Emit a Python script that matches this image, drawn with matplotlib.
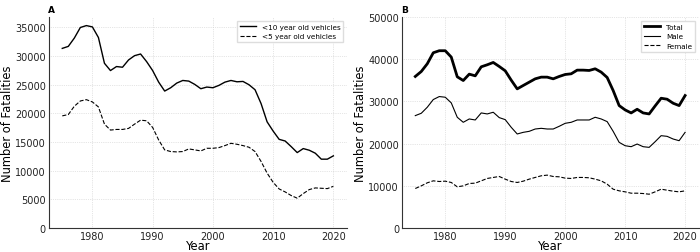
import matplotlib.pyplot as plt
import numpy as np

years = np.arange(1975, 2021)

# Panel A: fatalities by vehicle age
under10 = [31350, 31700, 33150, 35000, 35330, 35100, 33250, 28750, 27480, 28180,
           28060, 29330, 30080, 30370, 29040, 27480, 25460, 23900, 24480, 25290,
           25750, 25640, 25060, 24310, 24600, 24480, 24890, 25460, 25750, 25520,
           25580, 25000, 24130, 21710, 18530, 16920, 15470, 15180, 14200, 13160,
           13860, 13570, 13050, 12010, 12010, 12590]
under5 = [19570, 19800, 21250, 22170, 22400, 22000, 21130, 18130, 17090, 17200,
          17200, 17380, 18130, 18820, 18710, 17550, 15360, 13630, 13340, 13280,
          13340, 13800, 13630, 13450, 13910, 13910, 14030, 14380, 14780, 14610,
          14380, 14090, 13340, 11610, 9580, 7970, 6810, 6290, 5660, 5200,
          6000, 6700, 6990, 6930, 6870, 7270]

# Panel B: fatalities by sex
total = [35900, 37080, 38910, 41520, 42000, 42000, 40490, 35820, 34940, 36450,
         36050, 38190, 38670, 39220, 38270, 37240, 35020, 32960, 33760, 34550,
         35340, 35740, 35740, 35340, 35900, 36370, 36530, 37400, 37400, 37320,
         37720, 36930, 35660, 32570, 29000, 27970, 27260, 28130, 27260, 27020,
         28920, 30740, 30510, 29560, 29000, 31380]
male = [26620, 27180, 28610, 30430, 31140, 30980, 29640, 26230, 25040, 25830,
        25590, 27260, 27020, 27420, 26150, 25670, 23850, 22270, 22660, 22900,
        23450, 23610, 23450, 23450, 24090, 24800, 25040, 25590, 25590, 25590,
        26230, 25830, 25200, 22900, 20290, 19490, 19260, 19890, 19260, 19100,
        20440, 21870, 21710, 21080, 20680, 22660]
female = [9350, 9980, 10700, 11170, 11010, 11090, 10780, 9750, 9980, 10540,
          10620, 11170, 11730, 11970, 12200, 11570, 11010, 10780, 11090, 11570,
          11970, 12360, 12520, 12200, 12120, 11810, 11730, 11970, 11970, 11890,
          11570, 11170, 10380, 9190, 8800, 8560, 8240, 8240, 8160, 8000,
          8560, 9190, 8950, 8720, 8560, 8800]

fig = plt.figure(figsize=(7, 2.53), dpi=100)
axA = fig.add_axes([0.0696, 0.095, 0.426, 0.834])
axB = fig.add_axes([0.574, 0.095, 0.424, 0.834])


def style(ax):
    for s in ["top", "right"]:
        ax.spines[s].set_visible(False)
    for s in ["left", "bottom"]:
        ax.spines[s].set_linewidth(0.8)
        ax.spines[s].set_color("#333333")
    ax.grid(True, linestyle=":", linewidth=0.5, color="#cccccc")
    ax.set_axisbelow(True)
    ax.tick_params(length=0, labelsize=7, pad=2, labelcolor="#222222")
    ax.set_xlabel("Year", fontsize=8.3, labelpad=-1.5)
    ax.set_ylabel("Number of Fatalities", fontsize=8.3, labelpad=1)
    ax.set_xticks([1980, 1990, 2000, 2010, 2020])


axA.plot(years, under10, color="black", lw=1.0, label="<10 year old vehicles")
axA.plot(years, under5, color="black", lw=0.8, ls="--", label="<5 year old vehicles")
axA.set_ylim(0, None)
style(axA)
axA.set_yticks(np.arange(0, 35001, 5000))
axA.legend(loc="upper right", fontsize=5.2, framealpha=1, edgecolor="#dddddd",
           fancybox=False, handlelength=2.2)

axB.plot(years, total, color="black", lw=2.0, label="Total")
axB.plot(years, male, color="black", lw=0.8, label="Male")
axB.plot(years, female, color="black", lw=0.8, ls="--", label="Female")
axB.set_ylim(0, 50000)
style(axB)
axB.set_yticks(np.arange(0, 50001, 10000))
axB.legend(loc="upper right", fontsize=5.2, framealpha=1, edgecolor="#dddddd",
           fancybox=False, handlelength=2.2)

fig.text(0.069, 0.975, "A", fontsize=6.5, fontweight="bold", va="top")
fig.text(0.573, 0.975, "B", fontsize=6.5, fontweight="bold", va="top")

fig.savefig("out.png", dpi=100)
